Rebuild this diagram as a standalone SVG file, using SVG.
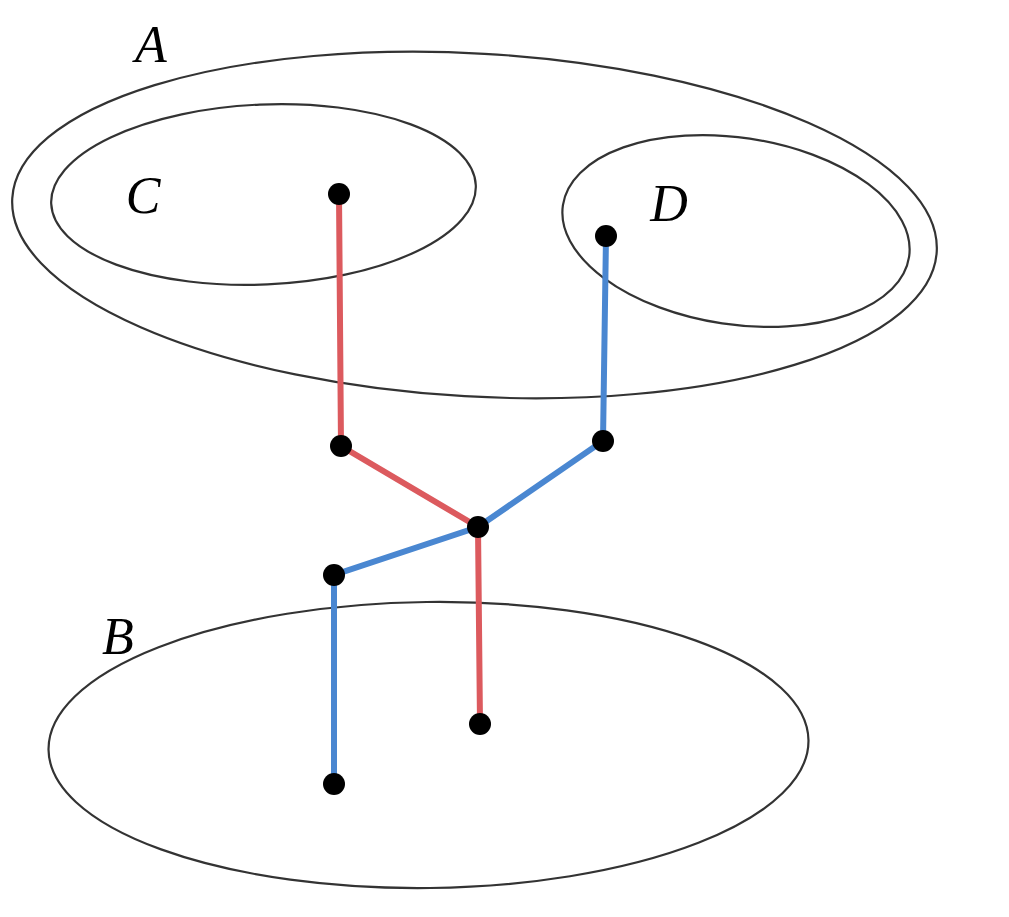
<svg xmlns="http://www.w3.org/2000/svg" width="1009" height="917" viewBox="0 0 1009 917">
<style>
.set{fill:none;stroke:#333333;stroke-width:2.2}
.lbl{font-family:"Liberation Serif",serif;font-style:italic;font-size:52px;fill:#000;text-anchor:middle}
.red{stroke:#dc5a5e;stroke-width:6;fill:none;stroke-linecap:round}
.blue{stroke:#4a87d1;stroke-width:6;fill:none;stroke-linecap:round}
.node{fill:#000}
</style>
<rect width="1009" height="917" fill="#fff"/>
<g id="setA"><ellipse class="set" cx="474.5" cy="225" rx="463" ry="171.5" transform="rotate(3.3 474.5 225)"/><text class="lbl" x="151" y="62">A</text></g>
<g id="setC"><ellipse class="set" cx="263.5" cy="194.5" rx="212.5" ry="90" transform="rotate(-2.5 263.5 194.5)"/><text class="lbl" x="143" y="213">C</text></g>
<g id="setD"><ellipse class="set" cx="736" cy="231" rx="175" ry="93.4" transform="rotate(8.5 736 231)"/><text class="lbl" x="669" y="221">D</text></g>
<g id="setB"><ellipse class="set" cx="428.5" cy="745" rx="380" ry="143" transform="rotate(-0.7 428.5 745)"/><text class="lbl" x="118" y="654">B</text></g>
<g id="connectors">
<polyline class="red" points="339,194 341,446 478,527 480,724"/>
<polyline class="blue" points="606,236 603,441 478,527 334,575 334,784"/>
</g>
<g id="n1"><circle class="node" cx="339" cy="194" r="11"/></g>
<g id="n2"><circle class="node" cx="606" cy="236" r="11"/></g>
<g id="n3"><circle class="node" cx="341" cy="446" r="11"/></g>
<g id="n4"><circle class="node" cx="603" cy="441" r="11"/></g>
<g id="n5"><circle class="node" cx="478" cy="527" r="11"/></g>
<g id="n6"><circle class="node" cx="334" cy="575" r="11"/></g>
<g id="n7"><circle class="node" cx="480" cy="724" r="11"/></g>
<g id="n8"><circle class="node" cx="334" cy="784" r="11"/></g>
</svg>
